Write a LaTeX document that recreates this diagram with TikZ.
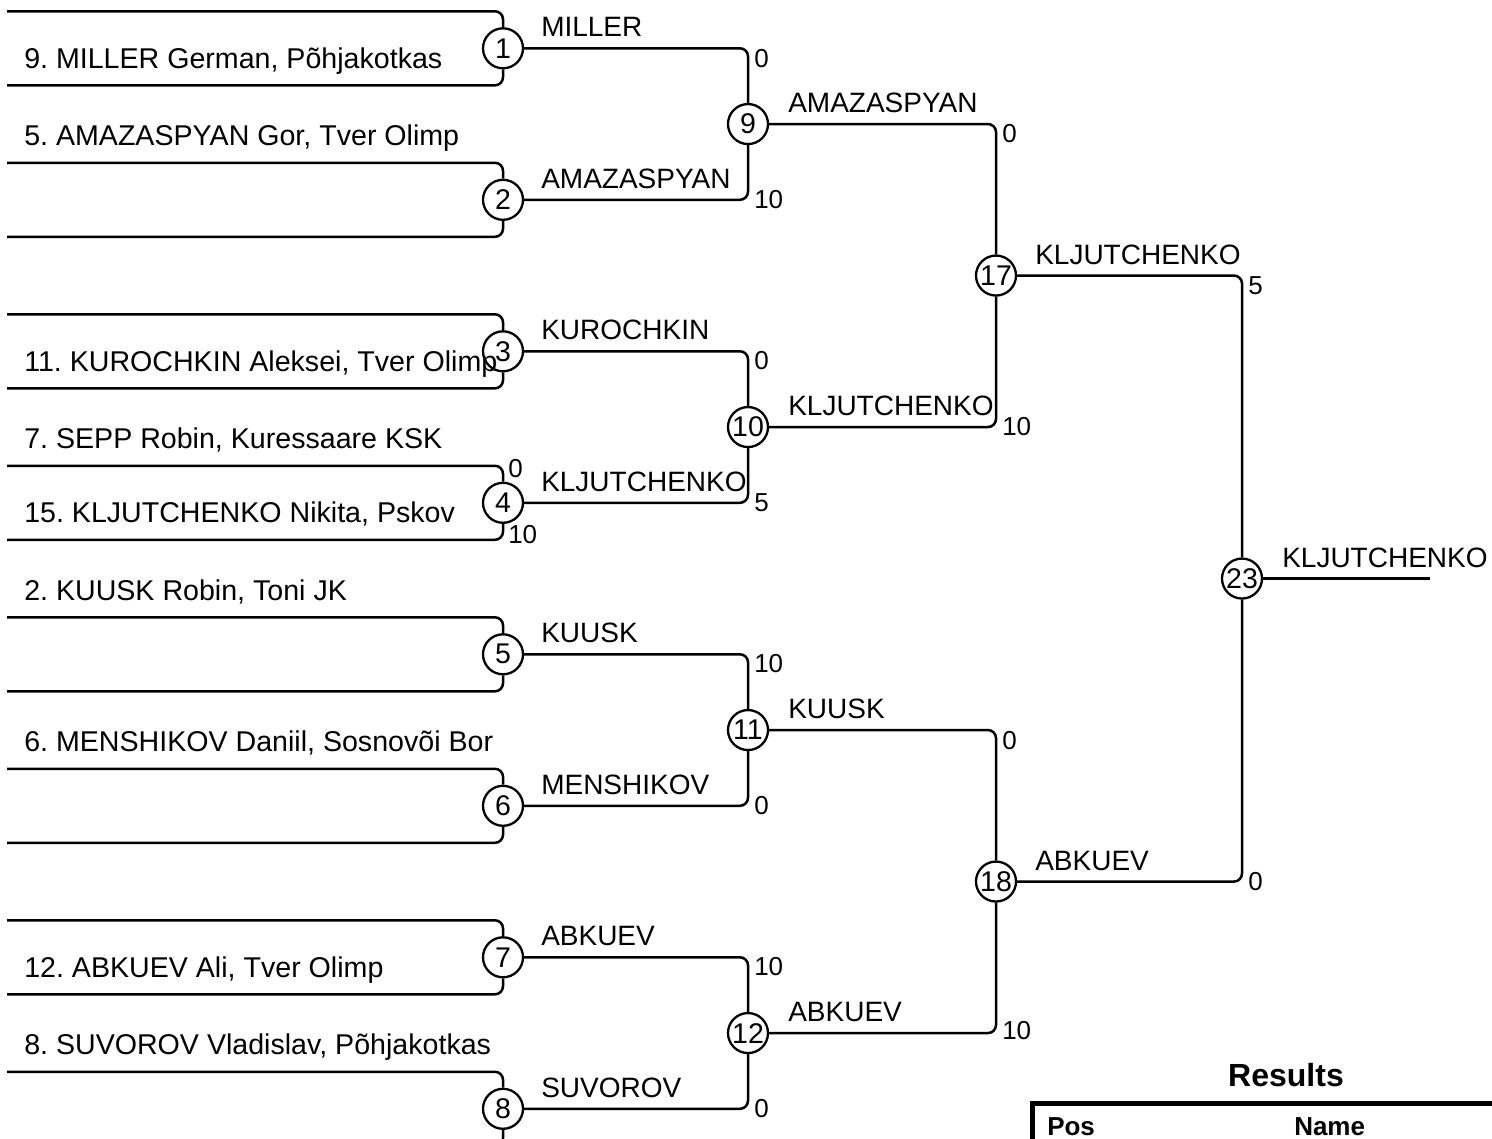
\documentclass[tikz,border=0pt]{standalone}
\usepackage{fontspec}
\setmainfont{Liberation Sans}
\frenchspacing
\begin{document}
\begin{tikzpicture}[x=1pt,y=-1pt,
  line width=2.5pt,
  seat/.style={circle,draw,line width=2.3pt,minimum size=40pt,inner sep=0pt,font=\fontsize{28.5}{28.5}\selectfont},
  entrant/.style={anchor=base west,inner sep=0pt,font=\fontsize{28.6}{30}\selectfont},
  winner/.style={anchor=base west,inner sep=0pt,font=\fontsize{28}{30}\selectfont},
  score/.style={anchor=west,inner sep=0pt,font=\fontsize{26}{26}\selectfont},
  bracket/.style={rounded corners=8pt},
  hdr/.style={anchor=base west,inner sep=0pt,font=\bfseries\fontsize{26}{28}\selectfont}]
\useasboundingbox (0,0) rectangle (1492,1139);

% round 1 circles
\foreach \k/\y in {1/48.3,2/199.8,3/351.3,4/502.8,5/654.3,6/805.8,7/957.3,8/1108.8}{
  \node[seat] (c\k) at (503,\y) {\k};
  \coordinate (t\k) at (7,\y-37);
  \coordinate (b\k) at (7,\y+37);
  \draw[bracket] (t\k) -| (c\k.north);
  \draw[bracket] (b\k) -| (c\k.south);
}
% round 2
\node[seat] (c9)  at (748,124.05) {9};
\node[seat] (c10) at (748,427.05) {10};
\node[seat] (c11) at (748,730.05) {11};
\node[seat] (c12) at (748,1033.05) {12};
% round 3
\node[seat] (c17) at (996,275.55) {17};
\node[seat] (c18) at (996,881.55) {18};
% final
\node[seat] (c23) at (1242,578.55) {23};
\coordinate (fin) at (1430,578.55);

% connectors
\draw[bracket] (c1.east) -| (c9.north);
\draw[bracket] (c2.east) -| (c9.south);
\draw[bracket] (c3.east) -| (c10.north);
\draw[bracket] (c4.east) -| (c10.south);
\draw[bracket] (c5.east) -| (c11.north);
\draw[bracket] (c6.east) -| (c11.south);
\draw[bracket] (c7.east) -| (c12.north);
\draw[bracket] (c8.east) -| (c12.south);
\draw[bracket] (c9.east) -| (c17.north);
\draw[bracket] (c10.east) -| (c17.south);
\draw[bracket] (c11.east) -| (c18.north);
\draw[bracket] (c12.east) -| (c18.south);
\draw[bracket] (c17.east) -| (c23.north);
\draw[bracket] (c18.east) -| (c23.south);
\draw (c23.east) -- (fin);

% entrant labels
\node[entrant] (e1) at (23,68.3) {9. MILLER German, Põhjakotkas};
\node[entrant] (e2) at (23,145.8) {5. AMAZASPYAN Gor, Tver Olimp};
\node[entrant] (e3) at (23,371.3) {11. KUROCHKIN Aleksei, Tver Olimp};
\node[entrant] (e4) at (23,448.8) {7. SEPP Robin, Kuressaare KSK};
\node[entrant] (e5) at (23,522.8) {15. KLJUTCHENKO Nikita, Pskov};
\node[entrant] (e6) at (23,600.3) {2. KUUSK Robin, Toni JK};
\node[entrant] (e7) at (23,751.8) {6. MENSHIKOV Daniil, Sosnovõi Bor};
\node[entrant] (e8) at (23,977.3) {12. ABKUEV Ali, Tver Olimp};
\node[entrant] (e9) at (23,1054.8) {8. SUVOROV Vladislav, Põhjakotkas};

% winner labels
\node[winner] (w1) at (540,36.8) {MILLER};
\node[winner] (w2) at (540,188.3) {AMAZASPYAN};
\node[winner] (w3) at (540,339.8) {KUROCHKIN};
\node[winner] (w4) at (540,491.3) {KLJUTCHENKO};
\node[winner] (w5) at (540,642.8) {KUUSK};
\node[winner] (w6) at (540,794.3) {MENSHIKOV};
\node[winner] (w7) at (540,945.8) {ABKUEV};
\node[winner] (w8) at (540,1097.3) {SUVOROV};
\node[winner] (w9) at (787,112.55) {AMAZASPYAN};
\node[winner] (w10) at (787,415.55) {KLJUTCHENKO};
\node[winner] (w11) at (787,718.55) {KUUSK};
\node[winner] (w12) at (787,1021.55) {ABKUEV};
\node[winner] (w17) at (1034,264.05) {KLJUTCHENKO};
\node[winner] (w18) at (1034,870.05) {ABKUEV};
\node[winner] (w23) at (1281,567.05) {KLJUTCHENKO};

% scores
\node[score] (s4a) at (507,469) {0};
\node[score] (s4b) at (507,535) {10};
\node[score] (s9a) at (753,58.3) {0};
\node[score] (s9b) at (753,199.8) {10};
\node[score] (s10a) at (753,360.3) {0};
\node[score] (s10b) at (753,502.8) {5};
\node[score] (s11a) at (753,663.3) {10};
\node[score] (s11b) at (753,805.8) {0};
\node[score] (s12a) at (753,966.3) {10};
\node[score] (s12b) at (753,1108.8) {0};
\node[score] (s17a) at (1001,134.05) {0};
\node[score] (s17b) at (1001,427.05) {10};
\node[score] (s18a) at (1001,740.05) {0};
\node[score] (s18b) at (1001,1031) {10};
\node[score] (s23a) at (1247,285.55) {5};
\node[score] (s23b) at (1247,881.55) {0};

% results table
\node[anchor=base,inner sep=0pt,font=\bfseries\fontsize{32}{34}\selectfont] (res) at (1286,1086) {Results};
\coordinate (tl) at (1032,1103);
\coordinate (tr) at (1495,1103);
\coordinate (bl) at (1032,1145);
\draw[line width=5pt] (bl) -- (tl) -- (tr);
\node[hdr] (hpos) at (1046,1135) {Pos};
\node[hdr] (hname) at (1293,1135) {Name};
\end{tikzpicture}
\end{document}
